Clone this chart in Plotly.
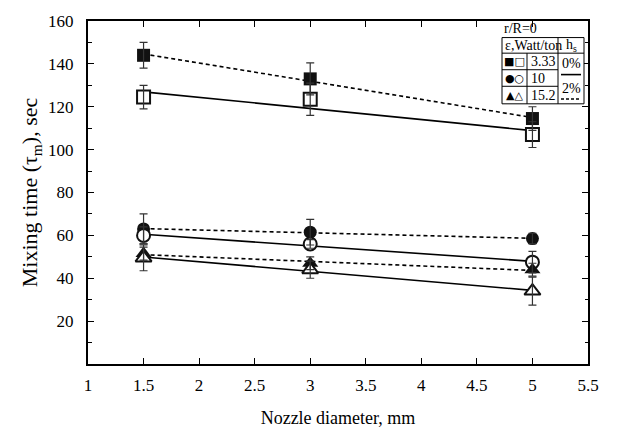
import numpy as np
import plotly.graph_objects as go

# ---------------- data ----------------
nozzle = [1.5, 3, 5]

sq_filled = [144, 133, 114.5]      # eps 3.33, hs 2%
sq_filled_err = [6, 7.5, 5.5]
sq_open = [124.5, 123.5, 107]      # eps 3.33, hs 0%
sq_open_err = [5.5, 7.5, 6]

ci_filled = [63, 61.5, 58.5]       # eps 10, hs 2%
ci_filled_err = [7, 6, 2.5]
ci_open = [60, 56, 47.5]           # eps 10, hs 0%
ci_open_err = [4, 2, 5]

tr_filled = [51.5, 47, 44]         # eps 15.2, hs 2%
tr_filled_err = [3, 3, 3]
tr_open = [49.5, 44, 34]           # eps 15.2, hs 0%
tr_open_err = [6, 4, 6.5]

x_ticks = [1, 1.5, 2, 2.5, 3, 3.5, 4, 4.5, 5, 5.5]
y_ticks = [20, 40, 60, 80, 100, 120, 140, 160]

eps_labels = ["3.33", "10", "15.2"]
eps_glyphs = ["■□", "●○", "▲△"]
hs_labels = ["0%", "2%"]

FONT = "Liberation Serif"

series = [
    (sq_filled, sq_filled_err, "square", True),
    (sq_open, sq_open_err, "square", False),
    (ci_filled, ci_filled_err, "circle", True),
    (ci_open, ci_open_err, "circle", False),
    (tr_filled, tr_filled_err, "triangle-up", True),
    (tr_open, tr_open_err, "triangle-up", False),
]

fig = go.Figure()

# regression lines (dashed = 2%, solid = 0%)
xs = np.array(nozzle, dtype=float)
xline = np.array([xs.min(), xs.max()])
for y, e, sym, filled in series:
    k, b = np.polyfit(xs, np.array(y, dtype=float), 1)
    fig.add_trace(go.Scatter(
        x=xline, y=k * xline + b, mode="lines",
        line=dict(color="black", width=1.6, dash="4px,3px" if filled else "solid"),
        showlegend=False, hoverinfo="skip"))

# markers
for y, e, sym, filled in series:
    size = 13 if sym != "triangle-up" else 14
    fig.add_trace(go.Scatter(
        x=nozzle, y=y, mode="markers",
        marker=dict(symbol=sym, size=size,
                    color="#111111" if filled else "white",
                    line=dict(color="#111111", width=0 if filled else 2)),
        showlegend=False))

# error bars on top
for y, e, sym, filled in series:
    fig.add_trace(go.Scatter(
        x=nozzle, y=y, mode="markers",
        marker=dict(size=1, color="rgba(0,0,0,0)"),
        error_y=dict(type="data", array=e, visible=True,
                     color="#333333", thickness=1.2, width=4),
        showlegend=False, hoverinfo="skip"))

# ---------------- layout geometry (window px; page body has 8px margin) ----------------
OFF = 8
W, H = 638 - OFF, 436 - OFF
L, R, T, B = 88, 588, 12, 364


def px(x):
    return (x - L) / (R - L)


def py(y):
    return (B - y) / (B - T)


tl, tr_, tt, tb = 502, 584, 29, 97
div1, div2 = 527, 558
hdr = 45
rows = [45, 62, 79, 97]

shapes = []
line_k = dict(color="black", width=1)
shapes.append(dict(type="rect", xref="paper", yref="paper",
                   x0=px(tl), x1=px(tr_), y0=py(tb), y1=py(tt), line=line_k,
                   fillcolor="white", layer="above"))
shapes.append(dict(type="line", xref="paper", yref="paper",
                   x0=px(tl), x1=px(tr_), y0=py(hdr), y1=py(hdr), line=line_k))
shapes.append(dict(type="line", xref="paper", yref="paper",
                   x0=px(div2), x1=px(div2), y0=py(tb), y1=py(tt), line=line_k))
shapes.append(dict(type="line", xref="paper", yref="paper",
                   x0=px(div1), x1=px(div1), y0=py(tb), y1=py(hdr), line=line_k))
for ry in rows[1:3]:
    shapes.append(dict(type="line", xref="paper", yref="paper",
                       x0=px(tl), x1=px(div2), y0=py(ry), y1=py(ry), line=line_k))
# hs legend lines
shapes.append(dict(type="line", xref="paper", yref="paper",
                   x0=px(561), x1=px(581), y0=py(67), y1=py(67),
                   line=dict(color="black", width=1.6)))
shapes.append(dict(type="line", xref="paper", yref="paper",
                   x0=px(561), x1=px(581), y0=py(92), y1=py(92),
                   line=dict(color="black", width=1.6, dash="3px,2px")))

ann = []
tf = dict(family=FONT, size=14, color="black")
ann.append(dict(xref="paper", yref="paper", x=px(502), y=py(20), text="r/R=0",
                xanchor="left", yanchor="middle", showarrow=False, font=tf))
ann.append(dict(xref="paper", yref="paper", x=px(503), y=py(37), text="ε,Watt/ton",
                xanchor="left", yanchor="middle", showarrow=False, font=tf))
ann.append(dict(xref="paper", yref="paper", x=px(571), y=py(37), text="h<sub>s</sub>",
                xanchor="center", yanchor="middle", showarrow=False, font=tf))
for i, (g, lab) in enumerate(zip(eps_glyphs, eps_labels)):
    cy = (rows[i] + rows[i + 1]) / 2
    ann.append(dict(xref="paper", yref="paper", x=px(514.5), y=py(cy), text=g,
                    xanchor="center", yanchor="middle", showarrow=False,
                    font=dict(family="DejaVu Sans", size=11, color="black")))
    ann.append(dict(xref="paper", yref="paper", x=px(529), y=py(cy), text=lab,
                    xanchor="left", yanchor="middle", showarrow=False, font=tf))
ann.append(dict(xref="paper", yref="paper", x=px(571), y=py(56), text=hs_labels[0],
                xanchor="center", yanchor="middle", showarrow=False, font=tf))
ann.append(dict(xref="paper", yref="paper", x=px(571), y=py(81), text=hs_labels[1],
                xanchor="center", yanchor="middle", showarrow=False, font=tf))

fig.update_layout(
    width=W, height=H,
    margin=dict(l=L - OFF, r=W - (R - OFF), t=T - OFF, b=H - (B - OFF)),
    paper_bgcolor="white", plot_bgcolor="white",
    font=dict(family=FONT, size=17, color="black"),
    shapes=shapes, annotations=ann,
    xaxis=dict(range=[1, 5.5], tickvals=x_ticks, ticktext=[f"{v:g}" for v in x_ticks],
               ticks="inside", ticklen=6, tickwidth=1, tickcolor="black",
               showline=True, linecolor="black", linewidth=2, mirror="ticks",
               showgrid=False, zeroline=False, ticklabelstandoff=5,
               ticklabeloverflow="allow",
               title=dict(text="Nozzle diameter, mm", font=dict(size=18), standoff=17)),
    yaxis=dict(range=[0, 160], tickvals=y_ticks,
               ticks="inside", ticklen=6, tickwidth=1, tickcolor="black",
               minor=dict(ticks="inside", ticklen=3.5, dtick=10, tick0=0, tickcolor="black"),
               showline=True, linecolor="black", linewidth=2, mirror="ticks",
               showgrid=False, zeroline=False, ticklabelstandoff=9,
               ticklabeloverflow="allow",
               title=dict(text="Mixing time (τ<sub>m</sub>), sec", font=dict(size=22), standoff=4)),
)

fig.write_html("out.html")
